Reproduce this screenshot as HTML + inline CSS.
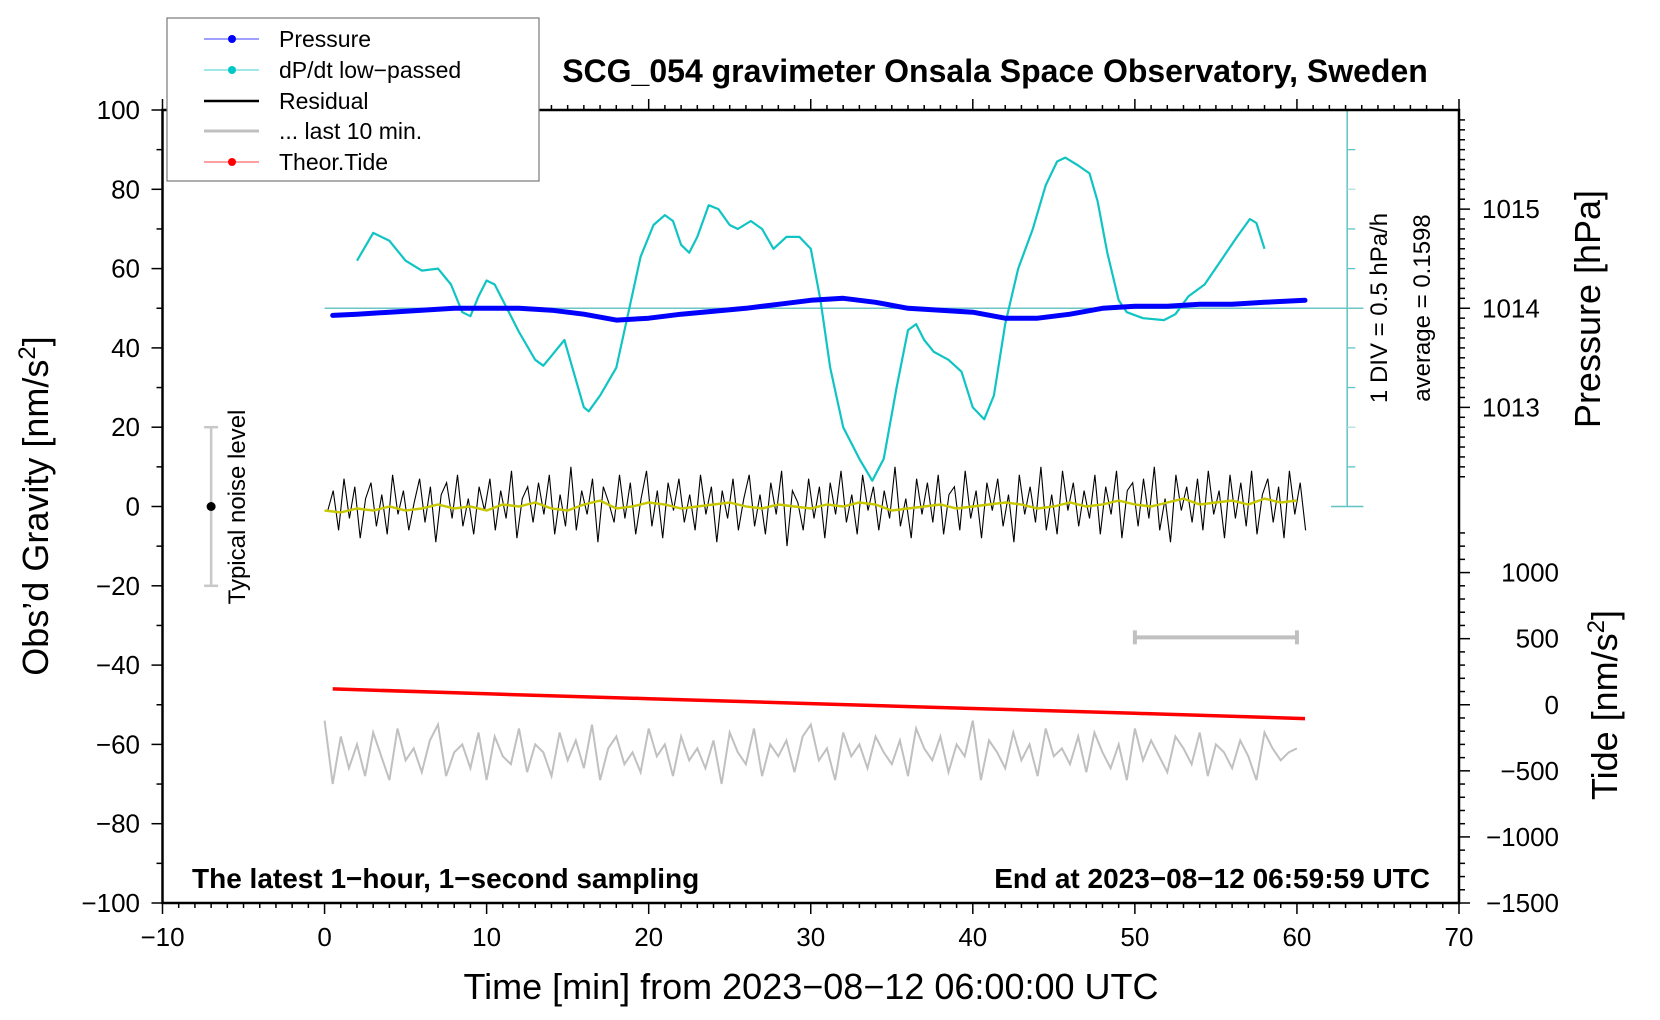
<!DOCTYPE html>
<html><head><meta charset="utf-8">
<style>
html,body{margin:0;padding:0;background:#fff;}
svg{display:block;font-family:"Liberation Sans",sans-serif;}
</style></head>
<body>
<svg id="chart" width="1660" height="1020" viewBox="0 0 1660 1020">
  <g id="marks"></g>
  <g id="axes"></g>
  <text x="995" y="82" text-anchor="middle" font-size="32" font-weight="bold">SCG_054 gravimeter Onsala Space Observatory, Sweden</text>
  <text x="192" y="888" font-size="28" font-weight="bold">The latest 1−hour, 1−second sampling</text>
  <text x="1430" y="888" text-anchor="end" font-size="28" font-weight="bold">End at 2023−08−12 06:59:59 UTC</text>
  <text x="811" y="999" text-anchor="middle" font-size="36">Time [min] from 2023−08−12 06:00:00 UTC</text>
  <text transform="translate(48,506) rotate(-90)" text-anchor="middle" font-size="36">Obs’d Gravity [nm/s<tspan dy="-13" font-size="24">2</tspan><tspan dy="13">]</tspan></text>
  <text transform="translate(1600,309) rotate(-90)" text-anchor="middle" font-size="36">Pressure [hPa]</text>
  <text transform="translate(1617,705) rotate(-90)" text-anchor="middle" font-size="36">Tide [nm/s<tspan dy="-13" font-size="24">2</tspan><tspan dy="13">]</tspan></text>
  <text transform="translate(1387,308) rotate(-90)" text-anchor="middle" font-size="24">1 DIV = 0.5 hPa/h</text>
  <text transform="translate(1430,308) rotate(-90)" text-anchor="middle" font-size="24">average = 0.1598</text>
  <text transform="translate(245,507) rotate(-90)" text-anchor="middle" font-size="24">Typical noise level</text>
  <g>
    <rect x="167" y="18" width="372" height="163" fill="#fff" stroke="#777" stroke-width="1.2"/>
    <g><line x1="204" y1="39" x2="259" y2="39" stroke="#4040ff" stroke-width="1"/><circle cx="232" cy="39" r="4" fill="#0000ff"/><text x="279" y="47" font-size="23">Pressure</text></g>
    <g><line x1="204" y1="70" x2="259" y2="70" stroke="#40d0d0" stroke-width="1"/><circle cx="232" cy="70" r="4" fill="#00c8c8"/><text x="279" y="78" font-size="23">dP/dt low−passed</text></g>
    <g><line x1="204" y1="101" x2="259" y2="101" stroke="#000" stroke-width="2.5"/><text x="279" y="109" font-size="23">Residual</text></g>
    <g><line x1="204" y1="131" x2="259" y2="131" stroke="#c0c0c0" stroke-width="3"/><text x="279" y="139" font-size="23">... last 10 min.</text></g>
    <g><line x1="204" y1="162" x2="259" y2="162" stroke="#ff4040" stroke-width="1"/><circle cx="232" cy="162" r="4" fill="#ff0000"/><text x="279" y="170" font-size="23">Theor.Tide</text></g>
  </g>
</svg>
<script>
// ---------- data ----------
const dpdtMin = [2,3,4,5,6,7,7.8,8.5,9,9.5,10,10.5,11,12,13,13.5,14,14.8,15.5,16,16.3,17,18,18.7,19.5,20.3,21,21.5,22,22.5,23,23.7,24.3,25,25.5,26.3,27,27.7,28.5,29.3,30,30.6,31.2,32,33,33.8,34.5,35.3,36,36.5,37,37.6,38.5,39.3,40,40.7,41.3,42,42.8,43.7,44.5,45.2,45.7,46.5,47.2,47.7,48.3,49,49.5,50.5,51.8,52.5,53.3,54.3,55.3,56.3,57.1,57.5,58];
const dpdtDiv = [62,69,67,62,59.5,60,56,49,48,53,57,56,52,44,37,35.5,38,42,32,25,24,28,35,48,63,71,73.5,72,66,64,68,76,75,71,70,72,70,65,68,68,65,52,35,20,12,6.5,12,30,44.5,46,42,39,37,34,25,22,28,46,60,70,81,87,88,86,84,77,64,52,49,47.5,47,48.5,53,56,62,68,72.5,71.5,65];
const pressMin = [0.5,2,4,6,8,10,12,14,16,18,20,22,24,26,28,30,32,34,36,38,40,42,44,46,48,50,52,54,56,58,60.5];
const pressHPa = [1013.928,1013.94,1013.96,1013.98,1014.0,1014.0,1014.0,1013.98,1013.94,1013.88,1013.9,1013.94,1013.97,1014.0,1014.04,1014.08,1014.1,1014.06,1014.0,1013.98,1013.96,1013.9,1013.9,1013.94,1014.0,1014.02,1014.02,1014.04,1014.04,1014.06,1014.08];
const tideMin = [0.5,10,20,30,40,50,60.5];
const tideNm = [120,83,46,9,-28,-65,-105];
const residual = [-1,4,-6,7,-3,5,-8,2,6,-5,3,-7,8,-2,4,-6,1,7,-4,5,-9,3,6,-3,8,-5,2,-7,5,-1,7,-6,4,-3,9,-8,2,5,-4,6,-2,8,-7,3,-5,10,-6,4,-2,7,-9,5,1,-4,8,-3,6,-7,2,9,-5,4,-8,6,-1,7,-4,3,-6,8,-2,5,-9,4,-3,7,-6,2,8,-5,3,-7,6,-2,9,-10,4,1,-6,7,-3,5,-8,6,-2,9,-4,3,-7,8,-1,5,-6,4,-3,10,-5,2,-8,7,-2,6,-4,8,-7,3,5,-6,9,-3,4,-8,6,-1,7,-5,3,-9,8,-2,5,-4,10,-6,3,-7,9,-1,6,-5,4,-3,8,-7,5,-2,9,-8,4,6,-5,7,-3,10,-6,2,-9,8,-1,5,-4,7,-6,9,-2,4,-8,8,-3,6,-5,9,-7,3,7,-4,5,-8,9,-2,6,-6];
const smooth = [-1,-1.5,-0.5,-1,0,-1,-0.5,0.5,-0.5,0,-1,0.5,0,1,-0.5,-1,0.5,1.5,-0.5,0,1,0.5,-0.5,0,0.5,1,0,-0.5,0.5,0,-0.5,0.5,0,1,0.5,-1,-0.5,0,0.5,-0.5,0,0.5,1,0.5,-0.5,0,1,0,0.5,1.5,0.5,0,1,2,0.5,1,1.5,0.5,2,1,1.5];
const last10 = [-54,-70,-58,-66,-60,-68,-57,-63,-69,-56,-64,-61,-67,-59,-55,-68,-62,-60,-66,-57,-69,-58,-63,-65,-56,-67,-60,-62,-68,-57,-64,-59,-66,-55,-69,-61,-58,-65,-62,-67,-56,-63,-60,-68,-58,-64,-61,-66,-59,-70,-57,-62,-65,-56,-68,-60,-63,-59,-67,-58,-55,-64,-61,-69,-57,-63,-60,-66,-58,-62,-65,-59,-68,-56,-61,-64,-58,-67,-60,-63,-54,-69,-59,-62,-66,-57,-64,-60,-68,-56,-63,-61,-65,-58,-67,-57,-62,-66,-60,-69,-56,-64,-59,-63,-67,-58,-61,-65,-57,-68,-60,-62,-66,-59,-63,-69,-57,-61,-64,-62,-61];
const xTicks = [-10,0,10,20,30,40,50,60,70];
const yTicks = [-100,-80,-60,-40,-20,0,20,40,60,80,100];
const pTicks = [1013,1014,1015];
const tTicks = [-1500,-1000,-500,0,500,1000];

// ---------- scales ----------
const X0=162.5, X1=1459, Y0=110, Y1=903;
const xs = m => X0 + (m+10)/80*(X1-X0);
const ys = v => Y1 - (v+100)/200*(Y1-Y0);
const yp = h => ys(50 + (h-1014)*25);
const yt = t => ys(-50 + t/30);
const NS='http://www.w3.org/2000/svg';
const marks=document.getElementById('marks'), axes=document.getElementById('axes');
function mk(tag, attrs, parent){const e=document.createElementNS(NS,tag);for(const k in attrs)e.setAttribute(k,attrs[k]);parent.appendChild(e);return e;}
function pts(xa,ya,fx,fy){return xa.map((x,i)=>fx(x).toFixed(1)+','+fy(ya[i]).toFixed(1)).join(' ');}

// dP/dt axis
const dax = mk('g',{},marks);


mk('line',{x1:xs(63.1),y1:ys(100),x2:xs(63.1),y2:ys(0),stroke:'#5fc4c4','stroke-width':1.5},dax);
for(let k=0;k<=10;k++){
  const yy=ys(k*10);
  if(k===0||k===10) mk('line',{x1:xs(62.1),y1:yy,x2:xs(64.1),y2:yy,stroke:'#5fc4c4','stroke-width':1.5},dax);
  else if(k!==5) mk('line',{x1:xs(63.1),y1:yy,x2:xs(63.6),y2:yy,stroke:(k===2||k===8)?'#b0e0e0':'#5fc4c4','stroke-width':1.3},dax);
}
const avgLine = mk('line',{x1:xs(0),y1:ys(50),x2:xs(64.1),y2:ys(50),stroke:'#6cc6c6','stroke-width':1.5},marks);



const dp = mk('polyline',{points:pts(dpdtMin,dpdtDiv,xs,ys),fill:'none',stroke:'#10c4c4','stroke-width':2.2,'stroke-linejoin':'round'},marks);



const pr = mk('polyline',{points:pts(pressMin,pressHPa,xs,yp),fill:'none',stroke:'#0000ff','stroke-width':5,'stroke-linejoin':'round','stroke-linecap':'round'},marks);



const rMin = residual.map((v,i)=>0.2+i/3);
const rs = mk('polyline',{points:pts(rMin,residual,xs,ys),fill:'none',stroke:'#000','stroke-width':1.1},marks);


const sMin = smooth.map((v,i)=>i);
const sm = mk('polyline',{points:pts(sMin,smooth,xs,ys),fill:'none',stroke:'#c8c800','stroke-width':2.4},marks);



const td = mk('polyline',{points:pts(tideMin,tideNm,xs,yt),fill:'none',stroke:'#ff0000','stroke-width':3.5},marks);



const lMin = last10.map((v,i)=>i*0.5);
const lt = mk('polyline',{points:pts(lMin,last10,xs,ys),fill:'none',stroke:'#c0c0c0','stroke-width':2},marks);



const gb = mk('g',{stroke:'#c0c0c0','stroke-width':4},marks);


mk('line',{x1:xs(50),y1:ys(-33),x2:xs(60),y2:ys(-33)},gb);
mk('line',{x1:xs(50),y1:ys(-33)-7,x2:xs(50),y2:ys(-33)+7},gb);
mk('line',{x1:xs(60),y1:ys(-33)-7,x2:xs(60),y2:ys(-33)+7},gb);

const nb = mk('g',{stroke:'#c8c8c8','stroke-width':2.5},marks);


mk('line',{x1:xs(-7),y1:ys(20),x2:xs(-7),y2:ys(-20)},nb);
mk('line',{x1:xs(-7)-7,y1:ys(20),x2:xs(-7)+7,y2:ys(20)},nb);
mk('line',{x1:xs(-7)-7,y1:ys(-20),x2:xs(-7)+7,y2:ys(-20)},nb);
mk('circle',{cx:xs(-7),cy:ys(0),r:4.5,fill:'#000',stroke:'none'},nb);

// ---------- axes ----------
mk('rect',{x:X0,y:Y0,width:X1-X0,height:Y1-Y0,fill:'none',stroke:'#000','stroke-width':2.5},axes);
for(let m=-10;m<=70;m++){
  const L = (m%10===0)?11:5;
  mk('line',{x1:xs(m),y1:Y1,x2:xs(m),y2:Y1+L,stroke:'#000','stroke-width':1.5},axes);
  mk('line',{x1:xs(m),y1:Y0,x2:xs(m),y2:Y0-L,stroke:'#000','stroke-width':1.5},axes);
}
xTicks.forEach(m=>{
  const t=mk('text',{x:xs(m),y:946,'text-anchor':'middle','font-size':26},axes);
  t.textContent = String(m).replace('-','−');
  
  
});
for(let v=-100;v<=100;v+=10){
  mk('line',{x1:X0,y1:ys(v),x2:X0-(v%20===0?11:6),y2:ys(v),stroke:'#000','stroke-width':1.5},axes);
}
yTicks.forEach(v=>{
  const t=mk('text',{x:140,y:ys(v)+9,'text-anchor':'end','font-size':26},axes);
  t.textContent = String(v).replace('-','−');
  
  
});
for(let k=10123;k<=10159;k++){
  const h=k/10, yy=yp(h);
  mk('line',{x1:X1,y1:yy,x2:X1+((k%10===0)?11:6),y2:yy,stroke:'#000','stroke-width':1.5},axes);
}
pTicks.forEach(h=>{
  const t=mk('text',{x:1482,y:yp(h)+9,'font-size':26},axes);
  t.textContent = String(h);
  
  
});
for(let t=-1500;t<=1300;t+=100){
  mk('line',{x1:X1,y1:yt(t),x2:X1+((t%500===0)?11:6),y2:yt(t),stroke:'#000','stroke-width':1.5},axes);
}
tTicks.forEach(v=>{
  const t=mk('text',{x:1559,y:yt(v)+9,'text-anchor':'end','font-size':26},axes);
  t.textContent = String(v).replace('-','−');
  
  
});
</script>
</body></html>
